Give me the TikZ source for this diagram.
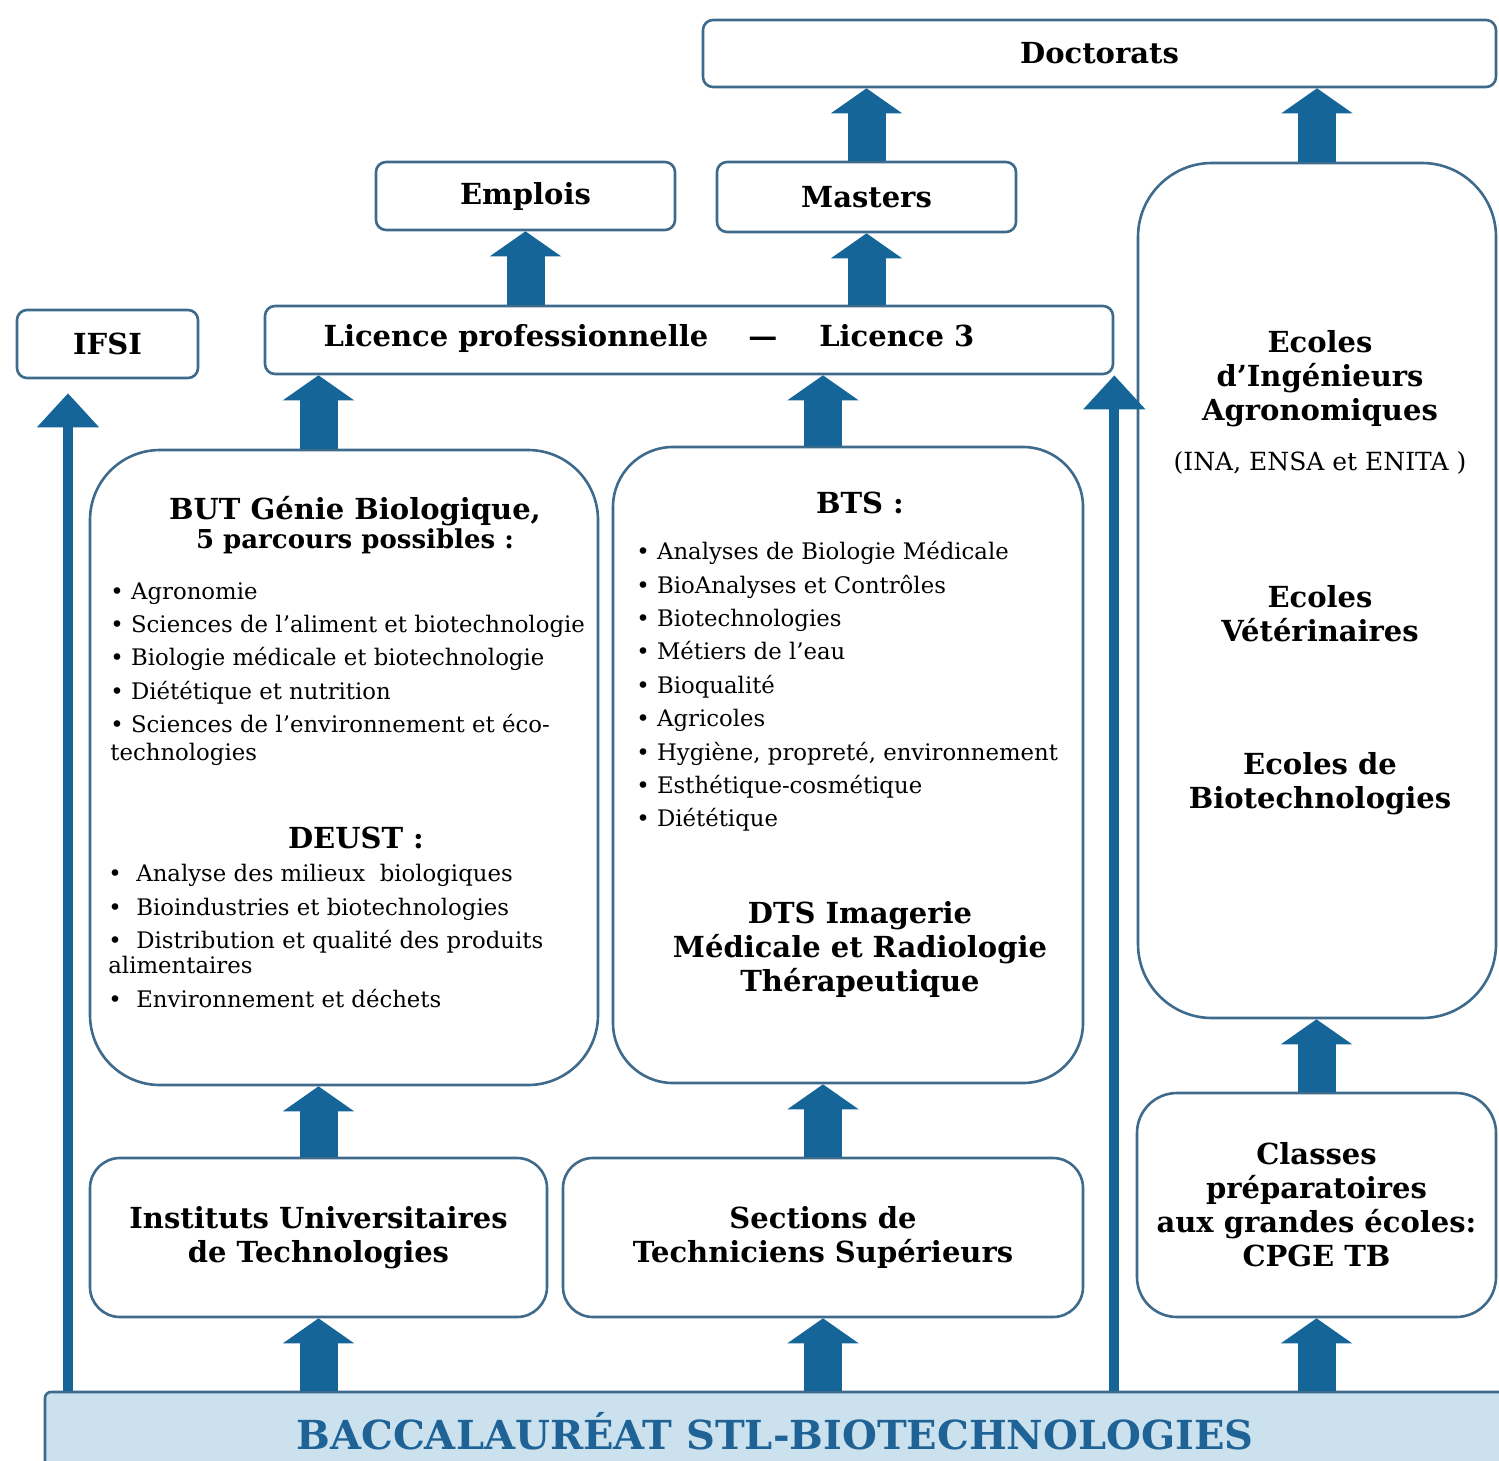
\documentclass[tikz,border=0pt]{standalone}
\usepackage{fontspec}
\setmainfont{DejaVu Serif}
\usepackage{tikz}
\usetikzlibrary{arrows.meta}
\usepackage{xcolor}
\definecolor{flecheblue}{RGB}{21,101,153}
\definecolor{bordblue}{RGB}{62,106,140}
\definecolor{bacfill}{RGB}{204,225,238}
\definecolor{bactext}{RGB}{30,98,150}
\tikzstyle{cadre}=[draw=bordblue, line width=1.3pt, rounded corners=5pt, fill=white, inner sep=0pt]
\tikzstyle{titre}=[font=\bfseries\fontsize{14.5}{17}\selectfont, align=center]
\tikzstyle{liste}=[font=\fontsize{11.4}{16.7}\selectfont, align=left, anchor=north west, inner sep=0pt]
\tikzstyle{bigarrow}=[line width=19pt, flecheblue, -{Triangle[width=35pt,length=12.5pt]}]
\tikzstyle{longarrow}=[line width=5pt, flecheblue, -{Triangle[width=30pt,length=17pt]}]

\begin{document}
\begin{tikzpicture}[x=0.5pt, y=-0.5pt]%
	\useasboundingbox (0,0) rectangle (1499,1461);

	% boites du haut
	\draw (1099.5,53.5) node (Box_Doct) [cadre, titre, minimum width=396.5pt, minimum height=33.5pt] {Doctorats};
	\draw (525.5,196)   node (Box_Empl) [cadre, titre, minimum width=149.5pt, minimum height=34pt] {Emplois};
	\draw (866.5,197)   node (Box_Mast) [cadre, titre, minimum width=149.5pt, minimum height=35pt] {Masters};
	\draw (107.5,344)   node (Box_IFSI) [cadre, titre, minimum width=90.5pt, minimum height=34pt] {IFSI};
	\draw (689,340)     node (Box_Lic)  [cadre, minimum width=424pt, minimum height=34pt] {};
	\draw (649,338)     node (Txt_Lic)  [titre] {Licence professionnelle\hspace{20pt}—\hspace{21pt}Licence 3};

	% grandes boites
	\draw (344,767.5)  node (Box_BUT)  [cadre, rounded corners=35pt, minimum width=254pt, minimum height=317.5pt] {};
	\draw (848,765)    node (Box_BTS)  [cadre, rounded corners=30pt, minimum width=235pt, minimum height=318pt] {};
	\draw (1317,590.5) node (Box_Ecol) [cadre, rounded corners=37pt, minimum width=179pt, minimum height=427.5pt] {};

	\draw (355,511) node (Tit_BUT) [titre] {BUT Génie Biologique,};
	\draw (355,541) node (Sub_BUT) [titre, font=\bfseries\fontsize{13}{15}\selectfont] {5 parcours possibles :};
	\draw (110,582) node (Lst_BUT) [liste] {• Agronomie\\
		• Sciences de l’aliment et biotechnologie\\
		• Biologie médicale et biotechnologie\\
		• Diététique et nutrition\\
		• Sciences de l’environnement et éco-\\[-3pt]
		technologies};
	\draw (356,838) node (Tit_DEUST) [titre] {DEUST :};
	\draw (108,864) node (Lst_DEUST) [liste] {•\ \ Analyse des milieux\ \ biologiques\\
		•\ \ Bioindustries et biotechnologies\\
		•\ \ Distribution et qualité des produits\\[-4pt]
		alimentaires\\
		•\ \ Environnement et déchets};

	\draw (860,503) node (Tit_BTS) [titre] {BTS :};
	\draw (636,541) node (Lst_BTS) [liste] {• Analyses de Biologie Médicale\\
		• BioAnalyses et Contrôles\\
		• Biotechnologies\\
		• Métiers de l’eau\\
		• Bioqualité\\
		• Agricoles\\
		• Hygiène, propreté, environnement\\
		• Esthétique-cosmétique\\
		• Diététique};
	\draw (860,949) node (Tit_DTS) [titre] {DTS Imagerie\\Médicale et Radiologie\\Thérapeutique};

	\draw (1320,379) node (Tit_Agro) [titre] {Ecoles\\d’Ingénieurs\\Agronomiques};
	\draw (1320,463) node (Sub_Agro) [font=\fontsize{12.5}{14}\selectfont] {(INA, ENSA et ENITA )};
	\draw (1320,614) node (Tit_Veto) [titre] {Ecoles\\Vétérinaires};
	\draw (1320,784) node (Tit_Biot) [titre] {Ecoles de\\Biotechnologies};

	% boites du bas
	\draw (318.5,1237.5) node (Box_IUT)  [cadre, titre, rounded corners=15pt, minimum width=228.5pt, minimum height=79.5pt] {Instituts Universitaires\\de Technologies};
	\draw (823,1237.5)   node (Box_STS)  [cadre, titre, rounded corners=15pt, minimum width=260pt, minimum height=79.5pt] {Sections de\\Techniciens Supérieurs};
	\draw (1316.5,1205)  node (Box_CPGE) [cadre, titre, rounded corners=20pt, minimum width=179.5pt, minimum height=112pt] {Classes\\préparatoires\\aux grandes écoles:\\CPGE TB};
	\draw (775,1431)     node (Box_Bac)  [cadre, rounded corners=3pt, fill=bacfill, text=bactext, font=\bfseries\fontsize{20}{22}\selectfont, minimum width=730pt, minimum height=39pt] {BACCALAURÉAT STL-BIOTECHNOLOGIES};

	\coordinate (Foot_IFSI) at (68,0);

	% fleches
	\draw [bigarrow] (Box_Bac.north -| Box_IUT.north) to (Box_IUT.south);
	\draw [bigarrow] (Box_Bac.north -| Box_STS.north) to (Box_STS.south);
	\draw [bigarrow] (Box_Bac.north -| Box_CPGE.north) to (Box_CPGE.south);
	\draw [bigarrow] (Box_IUT.north) to (Box_BUT.south -| Box_IUT.north);
	\draw [bigarrow] (Box_STS.north) to (Box_BTS.south -| Box_STS.north);
	\draw [bigarrow] (Box_CPGE.north) to (Box_Ecol.south -| Box_CPGE.north);
	\draw [bigarrow] (Box_BUT.north -| Box_IUT.north) to (Box_Lic.south -| Box_IUT.north);
	\draw [bigarrow] (Box_BTS.north -| Box_STS.north) to (Box_Lic.south -| Box_STS.north);
	\draw [bigarrow] (Box_Lic.north -| Box_Empl.south) to (Box_Empl.south);
	\draw [bigarrow] (Box_Lic.north -| Box_Mast.south) to (Box_Mast.south);
	\draw [bigarrow] (Box_Mast.north) to (Box_Doct.south -| Box_Mast.north);
	\draw [bigarrow] (Box_Ecol.north) to (Box_Doct.south -| Box_Ecol.north);

	\draw [longarrow, shorten >=7pt] (Box_Bac.north -| Foot_IFSI) to (Box_IFSI.south -| Foot_IFSI);
	\draw [longarrow] (Box_Bac.north -| Box_Lic.south east) to (Box_Lic.south east);

\end{tikzpicture}
\end{document}
